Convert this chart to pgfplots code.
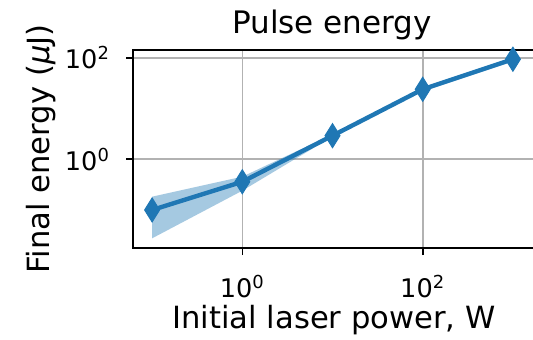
\documentclass[border=0pt]{standalone}
\usepackage{pgfplots}
\pgfplotsset{compat=1.18}
\usepackage{fontspec}
\setmainfont{DejaVu Sans}
\definecolor{tabblue}{HTML}{1F77B4}
\begin{document}
\begin{tikzpicture}
\begin{axis}[
  at={(0,0)}, anchor=south west,
  scale only axis, width=201pt, height=99pt,
  xmode=log, ymode=log,
  xmin=0.0614, xmax=1758, ymin=0.01778, ymax=142.9,
  xtick={1,100}, ytick={1,100},
  minor xtick={}, minor ytick={},
  xticklabels={10\textsuperscript{0},10\textsuperscript{2}},
  yticklabels={10\textsuperscript{0},10\textsuperscript{2}},
  tick align=outside, major tick length=3.5pt,
  tick style={black, line width=0.8pt},
  xtick pos=bottom, ytick pos=left,
  grid=major, major grid style={color=black!30, line width=0.8pt},
  axis line style={line width=1pt},
  tick label style={font=\fontsize{12.8}{14}\selectfont},
  xticklabel style={anchor=north, inner sep=0pt, yshift=-10pt},
  yticklabel style={anchor=east, inner sep=0pt, xshift=-7.85pt},
  label style={font=\fontsize{15.3}{18}\selectfont},
  title style={font=\fontsize{15.5}{18}\selectfont, at={(axis description cs:0.495,1.024)}, anchor=base},
  xlabel style={at={(axis description cs:0.5,-0.404)}, anchor=base},
  ylabel style={at={(axis description cs:-0.229,0.5)}, anchor=center, rotate=0},
  xlabel={Initial laser power, W},
  ylabel={Final energy ({\itshape μ}J)},
  title={Pulse energy},
]
\addplot[draw=none, fill=tabblue, fill opacity=0.4, forget plot] coordinates {
  (0.1,0.183) (1,0.454) (10,3.1) (100,24.6) (1000,95.5)
  (1000,92.5) (100,23.4) (10,2.8) (1,0.24) (0.1,0.0276)} -- cycle;
\addplot[tabblue, line width=2.2pt, mark=diamond*, mark size=6pt,
  mark options={solid, line width=0.5pt, xscale=0.83}] coordinates {
  (0.1,0.1) (1,0.36) (10,2.92) (100,24) (1000,94)};
\end{axis}
\pgfresetboundingbox
\path[use as bounding box] (-66.5pt,-45.5pt) rectangle (200pt,124pt);
\end{tikzpicture}
\end{document}
